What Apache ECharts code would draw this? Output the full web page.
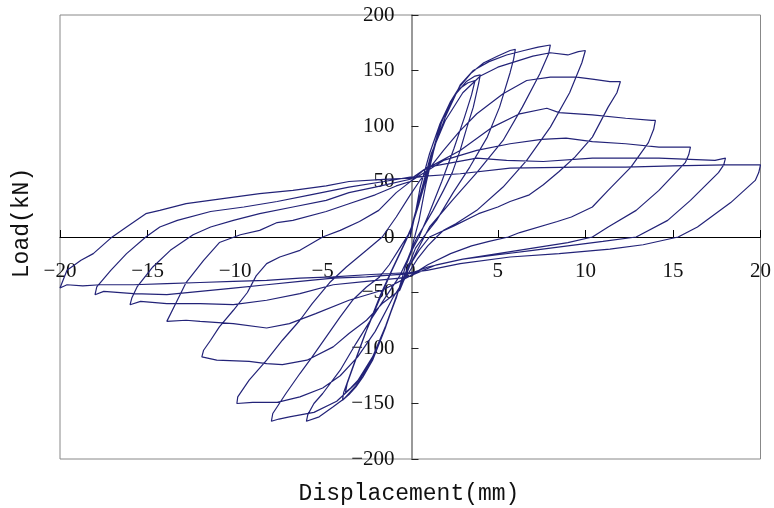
<!DOCTYPE html>
<html>
<head>
<meta charset="utf-8">
<script src="https://cdn.jsdelivr.net/npm/echarts@6/dist/echarts.min.js"></script>
<style>html,body{margin:0;padding:0;background:#fff}#c{width:774px;height:508px}</style>
</head>
<body>
<div id="c"></div>
<script>
// Axis ticks
const xTicks = [-20, -15, -10, -5, 0, 5, 10, 15, 20];
const yTicks = [-200, -150, -100, -50, 0, 50, 100, 150, 200];

// Load path, cycle by cycle: [displacement (mm), load (kN)]
const start = [[0,0],[0.3,22],[0.57,45]];
const cycle4a = [[1.1,75],[1.7,102],[2.3,122],[2.85,134],[3.3,139],[3.7,141],
  [3.5,128],[3.1,108],[2.5,80],[1.8,50],[1.1,22],[0.5,0],[0.1,-12],[-0.3,-28],[-0.8,-55],[-1.4,-80],[-2.1,-108],[-2.8,-126],[-3.4,-136],[-3.7,-140],
  [-3.6,-132],[-3.1,-110],[-2.4,-80],[-1.7,-52],[-1.0,-28],[-0.4,-8],[0.1,10],[0.6,38]];
const cycle4b = [[1.2,70],[1.8,104],[2.5,127],[3.2,140],[3.7,145],[4.0,146],
  [3.9,138],[3.6,117],[3.2,97],[2.85,78],[2.4,58],[1.9,42],[1.3,24],[0.75,9],[0.4,0],[0.1,-10],[-0.2,-22],[-0.6,-45],[-1.4,-81],[-2.15,-111],[-2.7,-126],[-3.1,-135],[-3.5,-142],[-3.87,-147],
  [-3.8,-140],[-3.3,-118],[-2.6,-88],[-1.8,-58],[-1.1,-32],[-0.5,-12],[0,5],[0.5,30],[0.9,52]];
const cycle6 = [[1.3,78],[1.7,100],[2.3,122],[2.85,136],[3.5,148],[4.2,157],[5,163],[5.7,168],[6,169],
  [5.9,160],[5.7,148],[5.1,117],[4.4,90],[3.4,63],[2.45,40],[1.5,15],[0.75,0],[0.3,-10],[0,-22],[-0.6,-45],[-1.4,-80],[-2.15,-110],[-3.1,-134],[-3.8,-146],[-4.4,-153],[-5.2,-162],[-5.93,-166],
  [-5.85,-160],[-5.5,-150],[-5,-141],[-4,-120],[-3.1,-96],[-2.15,-72],[-1.4,-54],[-0.6,-35],[0,-15],[0.5,15],[0.9,48]];
const cycle8 = [[1.4,82],[2,108],[2.85,137],[3.6,150],[4.5,158],[5.5,164],[6.5,168],[7.3,171],[8,173],
  [7.9,165],[7.4,147],[6.4,117],[5.3,87],[3.8,58],[2.4,33],[1.1,9],[0.8,0],[0.4,-12],[0,-25],[-0.6,-45],[-1.4,-80],[-2.15,-108],[-3.1,-132],[-4.2,-148],[-5.5,-158],[-6.9,-162],[-7.5,-164],[-7.93,-166],
  [-7.85,-159],[-7.1,-141],[-6.3,-123],[-5.6,-108],[-4.8,-90],[-4,-72],[-3.3,-57],[-2.5,-45],[-1.75,-36],[-1.2,-25],[-0.6,-10],[0,5],[0.6,40]];
const cycle10 = [[1.2,75],[2,105],[3,130],[4,145],[5,153],[6,158],[7,163],[8,166],[9,164],[9.6,167],[10,168],
  [9.8,157],[9.1,130],[8,99],[6.65,69],[5.3,45],[3.8,24],[2.6,12],[1.9,6],[1.5,0],[1,-8],[0.4,-20],[0,-30],[-1,-55],[-2,-85],[-3,-108],[-4,-125],[-5,-136],[-6.3,-144],[-7.6,-149],[-9,-149],[-9.9,-150],
  [-9.85,-144],[-9.2,-129],[-8.2,-111],[-7.3,-93],[-6.3,-75],[-5.6,-60],[-4.6,-41],[-3.65,-27],[-2.5,-12],[-1.6,0],[-0.8,18],[0,38],[0.6,52]];
const cycle12 = [[1.9,78],[2.8,95],[3.8,111],[5.3,129],[6.65,141],[8,144],[9.5,144],[10.5,142],[11.4,140],[12,140],
  [11.8,130],[11.3,117],[10.4,90],[9.4,72],[8.5,59],[7.6,47],[6.8,38],[5.7,32],[5,27],[3.9,21],[2.5,10],[1.1,0],[0.5,-12],[0,-25],[-0.6,-48],[-1.6,-60],[-2.5,-75],[-3.5,-87],[-4.4,-99],[-5.9,-111],[-7.3,-115],[-8.2,-114],[-9.2,-112],[-11.05,-111],[-11.9,-108],
  [-11.8,-102],[-11.4,-93],[-10.9,-81],[-10.1,-66],[-9.3,-50],[-8.8,-35],[-8.2,-24],[-7.45,-18],[-6.3,-12],[-5,0],[-4,6],[-2.9,14],[-1.8,24],[-0.8,40],[0.1,51],[0.75,60]];
const cycle14 = [[2.85,78],[4.7,99],[6.25,111],[7.8,116],[8.5,112],[10.4,110],[12.3,107],[13.8,105],[14,105],
  [13.9,97],[13.6,85],[12.6,63],[11.3,42],[10.4,27],[9.2,18],[8.4,14],[6.25,4],[5.6,0],[4.5,-4],[3.5,-8],[2.3,-15],[1,-25],[0,-35],[-1.6,-48],[-3.5,-57],[-5.4,-69],[-6.9,-78],[-8.2,-82],[-10.1,-78],[-12,-76],[-12.8,-75],[-13.9,-76],
  [-13.3,-57],[-12.8,-41],[-11.8,-21],[-10.9,-5],[-9.7,2],[-8.6,6],[-7.6,13],[-6.7,15],[-4.8,23],[-3.5,30],[-2,38],[-0.8,46],[0,50]];
const cycle16 = [[1.9,69],[3.8,78],[5.7,84],[7.5,88],[8.9,89],[10.4,86],[12.3,84],[14.2,81],[16,81],
  [15.9,74],[15.7,67],[14.2,42],[12.9,24],[11.3,9],[10.4,0],[9,-5],[7,-10],[5,-15],[3,-20],[1.5,-25],[0,-35],[-0.6,-37],[-2.5,-40],[-4.4,-43],[-6.3,-51],[-8.2,-57],[-10.1,-61],[-12,-60],[-13.9,-60],[-15.4,-58],[-16,-61],
  [-15.9,-55],[-15.6,-45],[-14.7,-27],[-13.7,-12],[-12.4,2],[-11.4,9],[-10.1,15],[-8.6,21],[-6.7,27],[-4.8,33],[-3.5,40],[-2,45],[0,52]];
const cycle18 = [[1,63],[3.8,71],[5.5,69],[7.6,68],[10.4,71],[14.2,71],[17.4,69],[18,71],
  [17.9,65],[17.6,58],[16,33],[14.7,15],[12.9,0],[11,-4],[9,-8],[7,-12],[5,-16],[3,-20],[1,-27],[0,-33],[-2.5,-36],[-4.4,-37],[-6.3,-40],[-8.2,-43],[-10.1,-46],[-12,-49],[-13.9,-52],[-15.8,-51],[-17.5,-49],[-18,-52],
  [-17.9,-45],[-17.1,-30],[-16.2,-15],[-15.1,0],[-14.3,9],[-13.3,15],[-11.4,23],[-9.5,27],[-7.6,32],[-5.7,38],[-3.5,45],[-1.5,50],[0,54]];
const cycle20 = [[2.85,57],[5.7,62],[9.5,63],[12.3,63],[15,64],[18,65],[20,65],
  [19.9,58],[19.7,51],[18.3,31],[16.4,9],[15.3,0],[13.3,-7],[11.4,-11],[8.5,-15],[5.7,-18],[2.85,-24],[0.95,-30],[0,-32],[-2.5,-34],[-4.4,-36],[-6.3,-37],[-8.2,-39],[-10.1,-40],[-12,-41],[-13.9,-42],[-15.8,-43],[-17.7,-43],[-18.7,-44],[-19.6,-43],[-20,-46],
  [-19.6,-30],[-18.8,-21],[-18.1,-15],[-17.1,-1],[-16.2,9],[-15.1,21],[-14.3,24],[-12.8,30],[-10.5,35],[-8.6,39],[-6.7,42],[-4.8,46],[-3.5,50],[-1.5,52],[0,53],[1,55]];

const path = [].concat(start, cycle4a, cycle4b, cycle6, cycle8, cycle10, cycle12, cycle14, cycle16, cycle18, cycle20);

const chart = echarts.init(document.getElementById('c'), null, {renderer: 'canvas'});
const minus = v => String(v).replace('-', '\u2212');
const labelFont = {fontFamily: 'Liberation Serif', fontSize: 21, color: '#111', formatter: minus};
// grid: left 60, right 763, top 15, bottom 459 -> zero lines at x=411.5, y=237
chart.setOption({
  animation: false,
  backgroundColor: '#fff',
  grid: {left: 60, right: 11, top: 15, bottom: 49, show: true, borderColor: '#888', borderWidth: 1},
  xAxis: {
    type: 'value', min: xTicks[0], max: xTicks[xTicks.length - 1], interval: 5,
    position: 'bottom', offset: -222,
    axisLine: {onZero: false, lineStyle: {color: '#000', width: 1}},
    axisTick: {show: true, inside: true, length: 7, lineStyle: {color: '#000'}},
    axisLabel: Object.assign({margin: 24}, labelFont),
    splitLine: {show: false}
  },
  yAxis: {
    type: 'value', min: yTicks[0], max: yTicks[yTicks.length - 1], interval: 50,
    position: 'left', offset: -351.5,
    axisLine: {show: true, onZero: false, lineStyle: {color: '#777', width: 1.5}},
    axisTick: {show: true, inside: true, length: 7, lineStyle: {color: '#222'}},
    axisLabel: Object.assign({margin: 17}, labelFont),
    splitLine: {show: false}
  },
  graphic: [
    {type: 'text', x: 22, y: 223, rotation: Math.PI / 2,
     style: {text: 'Load(kN)', fontFamily: 'Liberation Mono', fontSize: 23, fill: '#111', align: 'center', verticalAlign: 'middle'}},
    {type: 'text', x: 409, y: 494,
     style: {text: 'Displacement(mm)', fontFamily: 'Liberation Mono', fontSize: 23, fill: '#111', align: 'center', verticalAlign: 'middle'}}
  ],
  series: [{
    type: 'line', data: path, showSymbol: false, smooth: false,
    lineStyle: {color: '#232378', width: 1.2}, z: 1
  }]
});
</script>
</body>
</html>
